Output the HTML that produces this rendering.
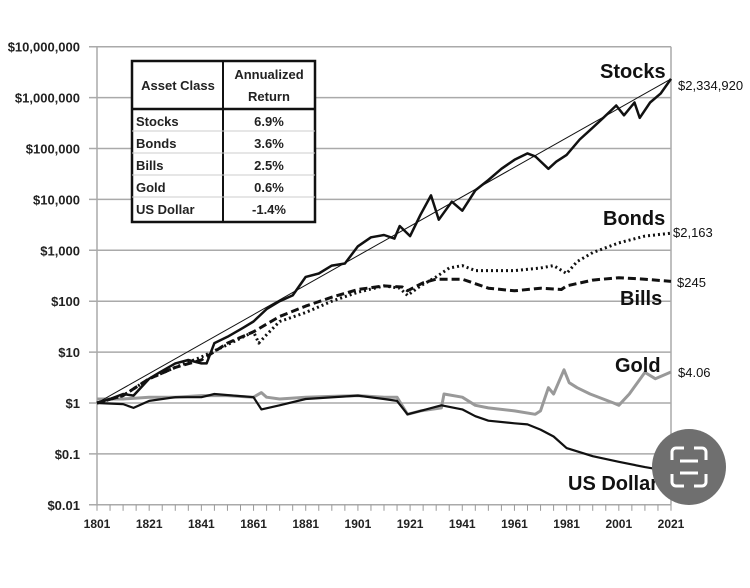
<!DOCTYPE html>
<html><head><meta charset="utf-8"><style>
body{margin:0;background:#fff;}
svg{font-family:"Liberation Sans",sans-serif;}
</style></head><body>
<svg id="c" width="750" height="583" xmlns="http://www.w3.org/2000/svg">
<rect width="750" height="583" fill="#fff"/>
<g id="grid"></g>
<g id="ylab"></g>
<g id="xlab"></g>
<g id="series"></g>
<g font-weight="bold" fill="#111">
<text x="600" y="78" font-size="20">Stocks</text>
<text x="678" y="90" font-size="13" font-weight="normal">$2,334,920</text>
<text x="603" y="225" font-size="20">Bonds</text>
<text x="673" y="237" font-size="13" font-weight="normal">$2,163</text>
<text x="620" y="305" font-size="20">Bills</text>
<text x="677" y="287" font-size="13" font-weight="normal">$245</text>
<text x="615" y="372" font-size="20">Gold</text>
<text x="678" y="377" font-size="13" font-weight="normal">$4.06</text>
<text x="568" y="490" font-size="20">US Dollar</text>
</g>
<g font-size="13" font-weight="bold" fill="#222">
<rect x="132" y="61" width="183" height="161" fill="#fff" stroke="#111" stroke-width="2.5"/>
<line x1="223" y1="61" x2="223" y2="222" stroke="#111" stroke-width="2"/>
<line x1="132" y1="109" x2="315" y2="109" stroke="#111" stroke-width="2.5"/>
<line x1="132" y1="131" x2="315" y2="131" stroke="#ccc"/>
<line x1="132" y1="153" x2="315" y2="153" stroke="#ccc"/>
<line x1="132" y1="175" x2="315" y2="175" stroke="#ccc"/>
<line x1="132" y1="197" x2="315" y2="197" stroke="#ccc"/>
<text x="178" y="90" text-anchor="middle">Asset Class</text>
<text x="269" y="79" text-anchor="middle">Annualized</text>
<text x="269" y="101" text-anchor="middle">Return</text>
<text x="136" y="126">Stocks</text><text x="269" y="126" text-anchor="middle">6.9%</text>
<text x="136" y="148">Bonds</text><text x="269" y="148" text-anchor="middle">3.6%</text>
<text x="136" y="170">Bills</text><text x="269" y="170" text-anchor="middle">2.5%</text>
<text x="136" y="192">Gold</text><text x="269" y="192" text-anchor="middle">0.6%</text>
<text x="136" y="214">US Dollar</text><text x="269" y="214" text-anchor="middle">-1.4%</text>
</g>
<g>
<ellipse cx="689" cy="467" rx="37" ry="38" fill="#6f6f6f"/>
<path d="M672 460v-8a4 4 0 0 1 4-4h8M694 448h8a4 4 0 0 1 4 4v8M706 474v8a4 4 0 0 1-4 4h-8M684 486h-8a4 4 0 0 1-4-4v-8" fill="none" stroke="#fff" stroke-width="3"/>
<line x1="680" y1="461" x2="698" y2="461" stroke="#fff" stroke-width="3"/>
<line x1="680" y1="473" x2="698" y2="473" stroke="#fff" stroke-width="3"/>
</g>
</svg>
<script>
const yTicks=[10000000,1000000,100000,10000,1000,100,10,1,0.1,0.01];
const yTickLabels=["$10,000,000","$1,000,000","$100,000","$10,000","$1,000","$100","$10","$1","$0.1","$0.01"];
const xTicks=[1801,1821,1841,1861,1881,1901,1921,1941,1961,1981,2001,2021];
const stockYears=[1801,1806,1811,1815,1821,1825,1831,1836,1841,1843,1846,1851,1857,1861,1866,1871,1876,1881,1886,1891,1896,1901,1906,1911,1915,1917,1921,1925,1929,1932,1937,1941,1946,1951,1956,1961,1966,1969,1974,1977,1981,1986,1990,1995,2000,2003,2007,2009,2013,2017,2021];
const stockVals=[1,1.2,1.5,1.4,3,4,6,7,6,6,15,20,30,40,70,100,130,300,350,500,550,1200,1800,2000,1700,3000,1900,5000,12000,4000,9000,6000,15000,24000,40000,60000,80000,70000,40000,55000,75000,150000,230000,400000,700000,450000,800000,400000,800000,1200000,2334920];
const trendYears=[1801,2021];
const trendVals=[1,2334920];
const bondYears=[1801,1811,1821,1831,1841,1851,1861,1863,1866,1871,1881,1891,1901,1911,1917,1920,1925,1931,1936,1941,1946,1951,1961,1971,1976,1981,1985,1991,2001,2011,2021];
const bondVals=[1,1.4,3,5,8,14,25,15,22,40,60,100,150,200,180,130,200,300,450,500,400,400,400,450,500,350,600,900,1400,1900,2163];
const billYears=[1801,1811,1821,1831,1841,1851,1861,1871,1881,1891,1901,1911,1918,1920,1926,1931,1941,1951,1961,1971,1979,1981,1991,2001,2011,2021];
const billVals=[1,1.4,3,5,7,15,25,50,80,120,170,200,190,160,230,270,270,180,160,180,170,200,260,290,270,245];
const goldYears=[1801,1811,1821,1831,1841,1851,1861,1864,1866,1871,1881,1891,1901,1911,1916,1920,1925,1933,1934,1941,1946,1951,1961,1969,1971,1974,1976,1980,1982,1985,1990,1999,2001,2005,2011,2015,2021];
const goldVals=[1.2,1.2,1.3,1.3,1.4,1.4,1.3,1.6,1.3,1.2,1.3,1.35,1.4,1.3,1.3,0.6,0.7,0.8,1.5,1.3,0.9,0.8,0.7,0.6,0.7,2,1.5,4.5,2.5,2,1.5,1,0.9,1.5,4,3,4.06];
const usdYears=[1801,1811,1815,1821,1831,1841,1846,1861,1864,1871,1881,1901,1911,1916,1920,1925,1933,1941,1946,1951,1961,1966,1971,1976,1981,1991,2001,2011,2021];
const usdVals=[1,0.95,0.8,1.1,1.3,1.3,1.5,1.3,0.75,0.9,1.2,1.4,1.2,1.1,0.6,0.7,0.9,0.75,0.55,0.45,0.4,0.38,0.3,0.22,0.13,0.09,0.07,0.055,0.045];

const X0=97,X1=671,Y1=403,DEC=50.9;
const xs=yr=>X0+(yr-1801)*(X1-X0)/220;
const ys=v=>Y1-Math.log10(v)*DEC;
const NS="http://www.w3.org/2000/svg";
function mk(t,p,a){const e=document.createElementNS(NS,t);for(const k in a)e.setAttribute(k,a[k]);p.appendChild(e);return e;}
const grid=document.getElementById('grid'),yl=document.getElementById('ylab'),xl=document.getElementById('xlab'),ser=document.getElementById('series');
yTicks.forEach((v,i)=>{
 const l=mk('line',grid,{x1:X0-8,x2:X1,y1:ys(v),y2:ys(v),stroke:'#aaa','stroke-width':1.5});
 
 
 const t=mk('text',yl,{x:80,y:ys(v)+5,'text-anchor':'end','font-size':13,'font-weight':'bold',fill:'#222'});
 t.textContent=yTickLabels[i];
 
 
});
const ax=mk('line',grid,{x1:X0,x2:X0,y1:ys(1e7),y2:ys(0.01),stroke:'#aaa','stroke-width':1.5});


const ax2=mk('line',grid,{x1:X1,x2:X1,y1:ys(1e7),y2:ys(0.01),stroke:'#aaa','stroke-width':1.5});


for(let yr=1801;yr<=2021;yr+=5){
 const tk=mk('line',grid,{x1:xs(yr),x2:xs(yr),y1:ys(0.01),y2:ys(0.01)+6,stroke:'#999'});
 
 
}
xTicks.forEach(yr=>{
 const t=mk('text',xl,{x:xs(yr),y:528,'text-anchor':'middle','font-size':12,'font-weight':'bold',fill:'#222'});
 t.textContent=yr;
 
 
});
function line(yrs,vals,st,name){
 const d=yrs.map((y,i)=>(i?'L':'M')+xs(y).toFixed(1)+' '+ys(vals[i]).toFixed(1)).join('');
 const p=mk('path',ser,Object.assign({d:d,fill:'none','stroke-linejoin':'round'},st));
 
 
}
line(goldYears,goldVals,{stroke:'#999','stroke-width':3},'gold-line');
line(usdYears,usdVals,{stroke:'#111','stroke-width':2.2},'us-dollar-line');
line(billYears,billVals,{stroke:'#111','stroke-width':3,'stroke-dasharray':'8 4'},'bills-line');
line(bondYears,bondVals,{stroke:'#111','stroke-width':3,'stroke-dasharray':'2 3'},'bonds-line');
line(trendYears,trendVals,{stroke:'#111','stroke-width':1},'stocks-trend-line');
line(stockYears,stockVals,{stroke:'#111','stroke-width':2.5},'stocks-line');
</script>
</body></html>
